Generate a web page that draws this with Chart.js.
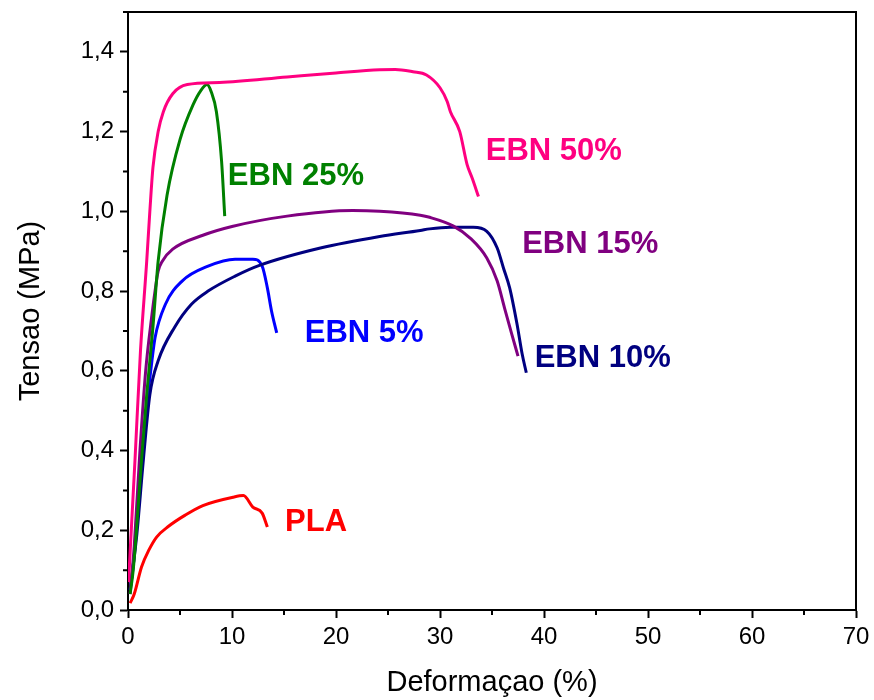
<!DOCTYPE html>
<html>
<head>
<meta charset="utf-8">
<script src="https://cdn.jsdelivr.net/npm/chart.js@4"></script>
<style>
  html, body { margin: 0; padding: 0; background: #fff; }
  #wrap { width: 874px; height: 700px; }
</style>
</head>
<body>
<div id="wrap"><canvas id="c" width="874" height="700"></canvas></div>
<script>
// strain (%) / stress (MPa)
const ebn50X = [0.05, 0.67, 1.2, 1.8, 2.1, 2.4, 2.9, 3.4, 4.3, 5.7, 8.8, 15.3, 20, 24.2, 25.7, 27.4, 28.7, 30.0, 30.7, 31.0, 31.9, 32.6, 33.1, 33.7];
const ebn50Y = [0.07, 0.375, 0.65, 0.875, 1.0, 1.11, 1.2, 1.25, 1.295, 1.318, 1.323, 1.337, 1.347, 1.355, 1.356, 1.35, 1.342, 1.31, 1.275, 1.25, 1.2, 1.118, 1.083, 1.037];

const ebn25X = [0.2, 0.5, 1.3, 1.8, 2.4, 2.9, 3.75, 5.0, 6.25, 7.0, 7.6, 8.0, 8.5, 9.0, 9.3];
const ebn25Y = [0.04, 0.1, 0.375, 0.54, 0.71, 0.875, 1.04, 1.18, 1.267, 1.303, 1.318, 1.3, 1.25, 1.125, 0.988];

const ebn15X = [0.2, 0.6, 1.15, 1.7, 2.3, 2.6, 2.9, 3.3, 4.3, 7.2, 10.0, 15.3, 21.6, 24.2, 28.1, 29.0, 31.3, 32.9, 34.5, 35.5, 36.2, 36.9, 37.5];
const ebn15Y = [0.04, 0.16, 0.4, 0.6, 0.74, 0.8, 0.85, 0.875, 0.905, 0.94, 0.962, 0.988, 1.002, 1.0, 0.99, 0.985, 0.963, 0.933, 0.883, 0.825, 0.758, 0.692, 0.637];

const ebn10X = [0.2, 0.85, 1.47, 2.1, 2.9, 4.5, 6.1, 7.7, 10.3, 12.7, 18.5, 24.2, 28.1, 29.0, 31.0, 33.2, 34.5, 35.5, 36.1, 36.7, 37.4, 37.9, 38.3];
const ebn10Y = [0.05, 0.19, 0.375, 0.54, 0.625, 0.71, 0.767, 0.8, 0.8375, 0.865, 0.908, 0.937, 0.952, 0.956, 0.96, 0.96, 0.95, 0.908, 0.858, 0.808, 0.718, 0.642, 0.595];

const ebn5X = [0.2, 0.5, 1.6, 2.3, 2.6, 3.6, 5.2, 7.7, 10.3, 12.0, 12.9, 13.4, 13.8, 14.3];
const ebn5Y = [0.05, 0.11, 0.46, 0.625, 0.683, 0.767, 0.825, 0.8625, 0.88, 0.88, 0.8625, 0.808, 0.75, 0.695];

const plaX = [0.2, 0.6, 1.3, 2.0, 2.75, 3.9, 5.5, 7.2, 10.1, 11.1, 12.0, 12.9, 13.4];
const plaY = [0.017, 0.04, 0.108, 0.15, 0.183, 0.21, 0.238, 0.262, 0.283, 0.287, 0.258, 0.243, 0.208];

const seriesNames = ['EBN 50%', 'EBN 25%', 'EBN 15%', 'EBN 10%', 'EBN 5%', 'PLA'];
const seriesColors = ['#FF0080', '#008000', '#800080', '#000080', '#0000FF', '#FF0000'];
const seriesXs = [ebn50X, ebn25X, ebn15X, ebn10X, ebn5X, plaX];
const seriesYs = [ebn50Y, ebn25Y, ebn15Y, ebn10Y, ebn5Y, plaY];

// where each curve label sits, in data units (left edge, middle)
const labelX = [34.4, 9.6, 37.9, 39.1, 17.0, 15.1];
const labelY = [1.15, 1.0875, 0.917, 0.63, 0.6925, 0.22];

const xTicks = [0, 10, 20, 30, 40, 50, 60, 70];
const yTicks = [0, 0.2, 0.4, 0.6, 0.8, 1.0, 1.2, 1.4];

const FONT = '"Liberation Sans", Arial, sans-serif';

const datasets = seriesNames.map((name, i) => ({
  label: name,
  data: seriesXs[i].map((x, j) => ({ x: x, y: seriesYs[i][j] })),
  borderColor: seriesColors[i],
  borderWidth: 3,
  pointRadius: 0,
  showLine: true,
  fill: false,
  cubicInterpolationMode: 'monotone'
}));

// frame on top/right, minor ticks, curve labels
const extras = {
  id: 'extras',
  afterDraw(chart) {
    const ctx = chart.ctx;
    const a = chart.chartArea;
    const xs = chart.scales.x, ys = chart.scales.y;
    ctx.save();
    ctx.strokeStyle = '#000';
    ctx.lineWidth = 2;
    ctx.beginPath();
    ctx.moveTo(a.left, a.top);
    ctx.lineTo(a.right, a.top);
    ctx.lineTo(a.right, a.bottom);
    ctx.stroke();
    // minor ticks
    ctx.beginPath();
    for (let v = 5; v < 70; v += 10) {
      const px = xs.getPixelForValue(v);
      ctx.moveTo(px, a.bottom);
      ctx.lineTo(px, a.bottom + 5);
    }
    for (let v = 0.1; v < 1.5; v += 0.2) {
      const py = ys.getPixelForValue(v);
      ctx.moveTo(a.left, py);
      ctx.lineTo(a.left - 5, py);
    }
    ctx.stroke();
    // labels
    ctx.font = 'bold 31px ' + FONT;
    ctx.textBaseline = 'middle';
    ctx.textAlign = 'left';
    seriesNames.forEach((name, i) => {
      ctx.fillStyle = seriesColors[i];
      ctx.fillText(name, xs.getPixelForValue(labelX[i]), ys.getPixelForValue(labelY[i]));
    });
    ctx.restore();
  }
};

new Chart(document.getElementById('c'), {
  type: 'scatter',
  data: { datasets: datasets },
  options: {
    responsive: false,
    animation: false,
    layout: { padding: { top: 12, right: 18, left: 0, bottom: 0 } },
    plugins: { legend: { display: false }, tooltip: { enabled: false } },
    scales: {
      x: {
        type: 'linear',
        min: 0,
        max: 70,
        afterBuildTicks: s => { s.ticks = xTicks.map(v => ({ value: v })); },
        afterFit: s => { s.height = 90; s.paddingLeft = 0; s.paddingRight = 0; },
        border: { color: '#000', width: 2 },
        grid: { drawOnChartArea: false, tickLength: 8, tickWidth: 2, tickColor: '#000' },
        ticks: { color: '#000', font: { size: 24, family: FONT }, padding: 5, maxRotation: 0 },
        title: { display: true, text: 'Deformaçao (%)', color: '#000', font: { size: 29, family: FONT }, padding: { top: 14, bottom: 0 } }
      },
      y: {
        type: 'linear',
        min: 0,
        max: 1.5,
        afterBuildTicks: s => { s.ticks = yTicks.map(v => ({ value: v })); },
        afterFit: s => { s.width = 128; s.paddingTop = 0; s.paddingBottom = 0; },
        border: { color: '#000', width: 2 },
        grid: { drawOnChartArea: false, tickLength: 8, tickWidth: 2, tickColor: '#000' },
        ticks: {
          color: '#000',
          font: { size: 24, family: FONT },
          padding: 6,
          callback: v => v.toFixed(1).replace('.', ',')
        },
        title: { display: true, text: 'Tensao (MPa)', color: '#000', font: { size: 29, family: FONT }, padding: { top: 14, bottom: 0 } }
      }
    }
  },
  plugins: [extras]
});
</script>
</body>
</html>
